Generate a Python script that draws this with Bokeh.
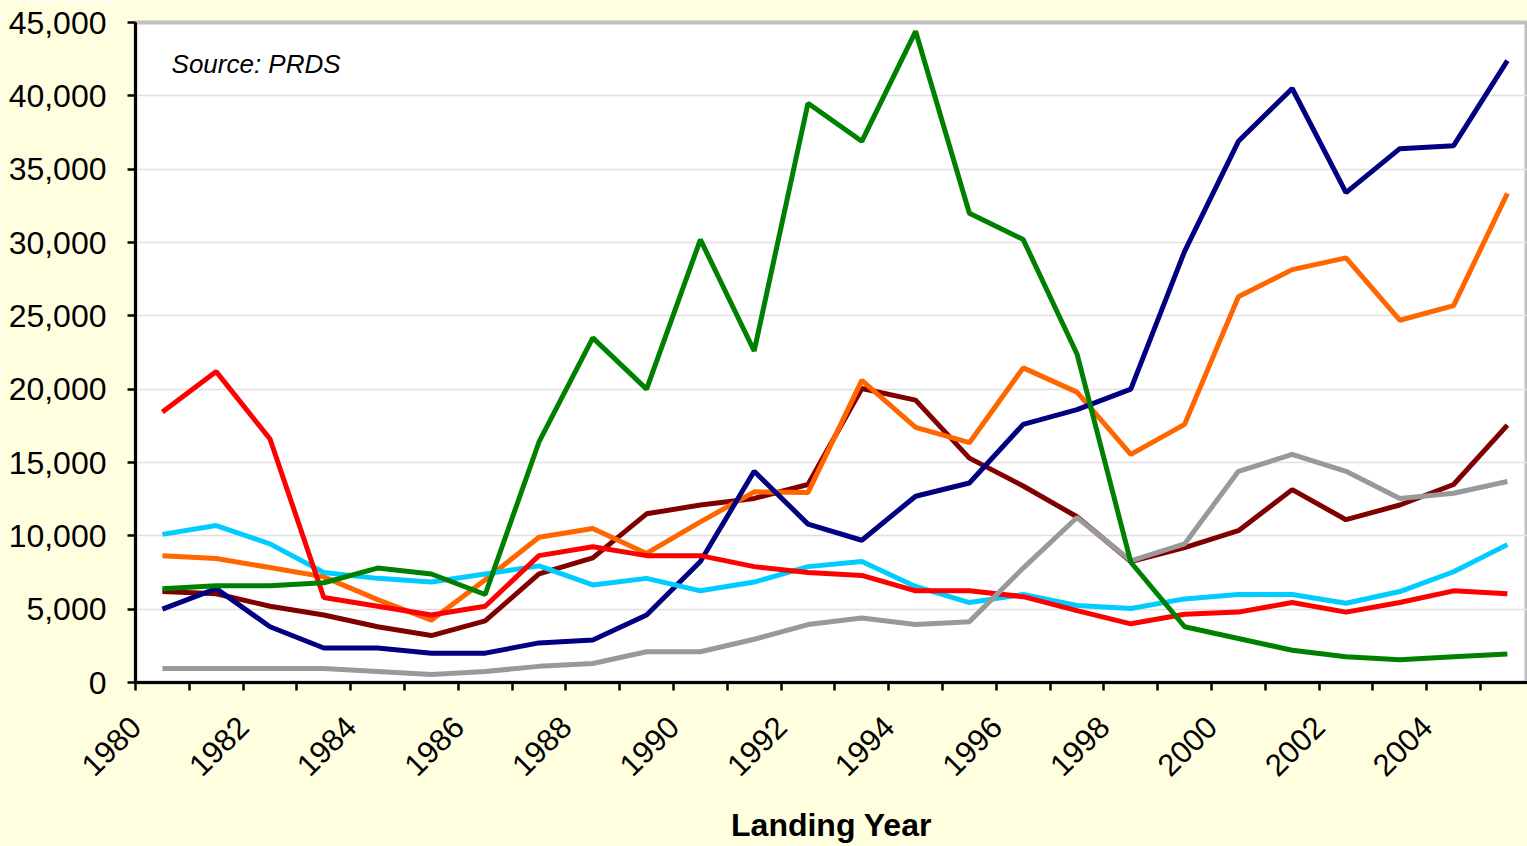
import math
from bokeh.plotting import figure
from bokeh.models import Range1d, FixedTicker, NumeralTickFormatter, Label
from bokeh.embed import file_html
from bokeh.resources import INLINE

years = list(range(1980, 2006))

navy = [5000, 6400, 3800, 2350, 2350, 2000, 2000, 2700, 2900, 4600, 8250, 14400, 10800, 9700,
        12700, 13600, 17600, 18600, 20000, 29400, 36900, 40500, 33400, 36400, 36600, 42400]
orange = [8650, 8450, 7840, 7200, 5650, 4250, 7000, 9900, 10500, 8800, 10950, 13000, 12950, 20600,
          17400, 16350, 21450, 19800, 15550, 17600, 26300, 28150, 28950, 24700, 25700, 33350]
green = [6400, 6600, 6600, 6800, 7800, 7400, 6000, 16400, 23500, 20000, 30200, 22600, 39500, 36900,
         44400, 32000, 30200, 22400, 8200, 3800, 3000, 2200, 1750, 1550, 1750, 1950]
cyan = [10100, 10700, 9450, 7500, 7100, 6850, 7400, 7950, 6650, 7100, 6250, 6850, 7900, 8250,
        6550, 5450, 6000, 5250, 5050, 5700, 6000, 6000, 5400, 6200, 7550, 9400]
red = [18450, 21200, 16600, 5800, 5200, 4600, 5200, 8650, 9250, 8650, 8650, 7900, 7500, 7300,
       6250, 6250, 5850, 4900, 4000, 4650, 4800, 5450, 4800, 5450, 6250, 6050]
maroon = [6200, 6050, 5200, 4600, 3800, 3200, 4200, 7400, 8500, 11500, 12100, 12550, 13500, 20050,
          19250, 15300, 13400, 11300, 8250, 9200, 10350, 13150, 11100, 12100, 13500, 17550]
gray = [950, 950, 950, 950, 750, 550, 750, 1100, 1300, 2100, 2100, 2950, 3950, 4400,
        3950, 4150, 7800, 11250, 8300, 9450, 14400, 15550, 14400, 12550, 12900, 13700]

y_ticks = list(range(0, 45001, 5000))
source_text = "Source: PRDS"
x_title = "Landing Year"

FONT = "Liberation Sans"
PX_PER_CAT = 53.8
W, H = 1527, 846
LEFT, TOP, BOTTOM = 135, 22, 164
FRAME_W = W - LEFT

p = figure(width=W, height=H, output_backend="svg", toolbar_location=None,
           x_range=Range1d(0, FRAME_W / PX_PER_CAT), y_range=Range1d(0, 45000),
           background_fill_color="white", border_fill_color="#FFFFE0",
           min_border_left=LEFT, min_border_top=TOP, min_border_right=0, min_border_bottom=BOTTOM)

p.outline_line_color = "#C0C0C0"
p.outline_line_width = 4

xs = [i + 0.5 for i in range(len(years))]
series = [(maroon, "#800000"), (orange, "#FF6600"), (navy, "#000080"), (cyan, "#00CCFF"),
          (red, "#FF0000"), (gray, "#999999"), (green, "#008000")]
for vals, col in series:
    p.line(xs, vals, line_color=col, line_width=5)

# x axis
xa = p.xaxis[0]
xa.ticker = FixedTicker(ticks=[i for i in range(len(years)) if i % 2 == 0],
                        minor_ticks=[i for i in range(len(years) + 1) if i % 2 == 1])
xa.major_label_overrides = {i: str(y) for i, y in enumerate(years) if i % 2 == 0}
xa.major_label_orientation = math.pi / 4
xa.major_label_text_font = FONT
xa.major_label_text_font_size = "31px"
xa.major_label_text_color = "black"
xa.major_label_standoff = 31
xa.axis_line_color = "black"
xa.axis_line_width = 3
xa.major_tick_out = 8
xa.major_tick_in = 0
xa.minor_tick_out = 8
xa.minor_tick_in = 0
xa.major_tick_line_width = 2.5
xa.minor_tick_line_width = 2.5
xa.major_tick_line_color = "black"
xa.minor_tick_line_color = "black"
xa.axis_label = x_title
xa.axis_label_text_font = FONT
xa.axis_label_text_font_style = "bold"
xa.axis_label_text_font_size = "32px"
xa.axis_label_text_color = "black"
xa.axis_label_standoff = 18

# y axis
ya = p.yaxis[0]
ya.ticker = FixedTicker(ticks=y_ticks)
ya.formatter = NumeralTickFormatter(format="0,0")
ya.major_label_text_font = FONT
ya.major_label_text_font_size = "32px"
ya.major_label_text_color = "black"
ya.major_label_standoff = 21
ya.axis_line_color = "black"
ya.axis_line_width = 3
ya.major_tick_out = 8
ya.major_tick_in = 0
ya.major_tick_line_width = 2.5
ya.major_tick_line_color = "black"
ya.minor_tick_line_color = None

p.xgrid.grid_line_color = None
p.ygrid.grid_line_color = "#E0E0E0"
p.ygrid.grid_line_width = 1.5

p.add_layout(Label(x=0.67, y=42200, text=source_text, text_font=FONT, text_font_style="italic",
                   text_font_size="26px", text_baseline="middle", text_color="black"))

open("out.html", "w").write(file_html(p, INLINE))
